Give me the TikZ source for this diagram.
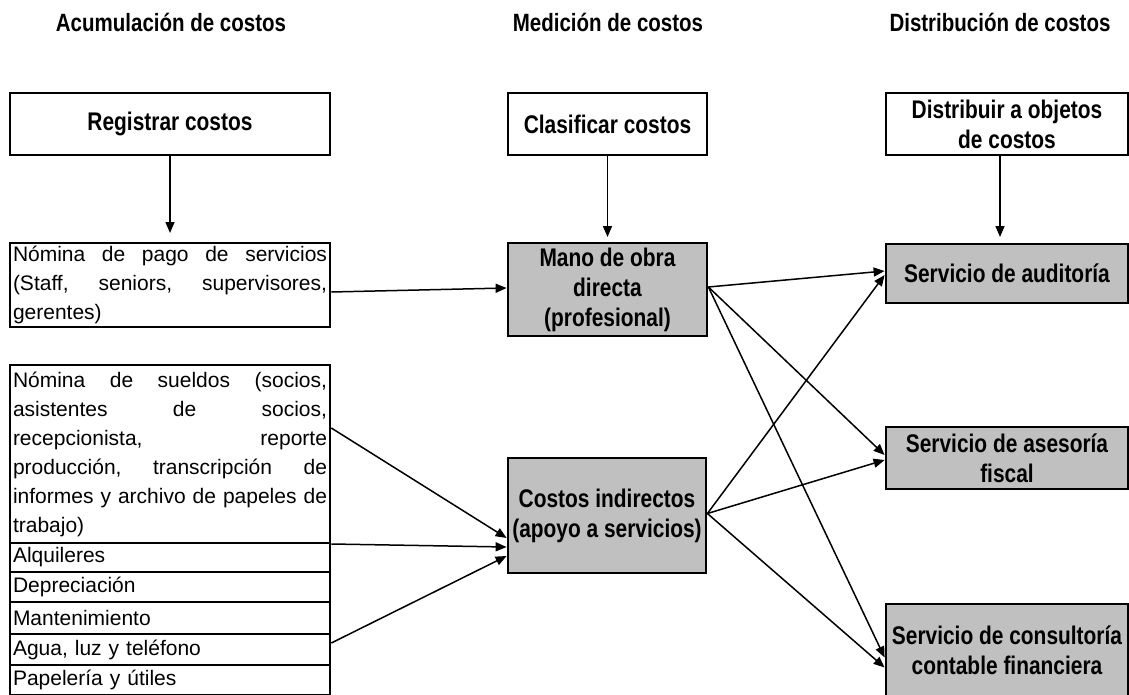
\documentclass[tikz,border=0pt]{standalone}
\usepackage{fontspec}
\setmainfont{Liberation Sans}
\newfontfamily\condfont[FakeStretch=0.82]{Liberation Sans}
\usetikzlibrary{arrows.meta}
\definecolor{boxgray}{HTML}{C0C0C0}
\tikzset{
  heading/.style={font=\condfont\bfseries\fontsize{25}{30}\selectfont, inner sep=0pt},
  stagebox/.style={draw, line width=2.8pt, align=center, inner sep=0pt,
    font=\condfont\bfseries\fontsize{25.5}{30}\selectfont},
  graybox/.style={stagebox, fill=boxgray},
  itembox/.style={draw, line width=2.6pt, inner xsep=3pt, inner ysep=0pt,
    minimum width=320pt, text width=314pt, align=left,
    font=\fontsize{21}{29}\selectfont},
  conn/.style={line width=1.5pt, -{Triangle[length=11pt,width=9pt]}},
}
\begin{document}
\begin{tikzpicture}[x=1pt,y=-1pt]
\useasboundingbox (0,0) rectangle (1129,695);

% column headings
\node[heading] (h1) at (171,22) {Acumulación de costos};
\node[heading] (h2) at (608,22) {Medición de costos};
\node[heading] (h3) at (1000,22) {Distribución de costos};

% stage boxes
\node[stagebox, minimum width=320pt, minimum height=62pt] (reg) at (170,124) {Registrar costos};
\node[stagebox, minimum width=199pt, minimum height=62pt] (cla) at (607.5,124) {Clasificar costos};
\node[stagebox, minimum width=242pt, minimum height=62pt] (dis) at (1007,124) {Distribuir a objetos\\de costos};

\coordinate (regend) at (170,233);
\coordinate (claend) at (607.5,237);
\coordinate (disend) at (1000,237);
\draw[conn] (reg.south) -- (regend);
\draw[conn] (cla.south) -- (claend);
\draw[conn] ([xshift=-7pt]dis.south) -- (disend);

% cost items
\node[itembox, minimum height=84pt] (pago) at (170,285)
  {Nómina\hfill de\hfill pago\hfill de\hfill servicios\\
   (Staff,\hfill seniors,\hfill supervisores,\\
   gerentes)};
\node[itembox, minimum height=178pt] (sue) at (170,454)
  {Nómina\hfill de\hfill sueldos\hfill (socios,\\
   asistentes\hfill de\hfill socios,\\
   recepcionista,\hfill reporte\\
   producción,\hfill transcripción\hfill de\\
   informes\hfill y\hfill archivo\hfill de\hfill papeles\hfill de\\
   trabajo)};
\node[itembox, minimum height=29pt] (alq) at (170,557.5) {Alquileres};
\node[itembox, minimum height=30pt] (dep) at (170,587) {Depreciación};
\node[itembox, minimum height=32pt] (man) at (170,618) {Mantenimiento};
\node[itembox, minimum height=31pt] (agu) at (170,649.5) {Agua, luz y teléfono};
\node[itembox, minimum height=30pt] (pap) at (170,680) {Papelería y útiles};

% cost categories
\node[graybox, minimum width=199pt, minimum height=93pt] (mano) at (607.5,289.5)
  {Mano de obra\\directa\\(profesional)};
\node[graybox, minimum width=198pt, minimum height=115pt] (ind) at (607,515.5)
  {Costos indirectos\\(apoyo a servicios)};

% cost objects
\node[graybox, minimum width=242pt, minimum height=59pt] (aud) at (1007,273.5)
  {Servicio de auditoría};
\node[graybox, minimum width=242pt, minimum height=62pt] (ase) at (1007,458)
  {Servicio de asesoría\\fiscal};
\node[graybox, minimum width=242pt, minimum height=93pt] (con) at (1007,650.5)
  {Servicio de consultoría\\contable financiera};

% flows into the categories
\draw[conn] ([yshift=-7pt]pago.east) -- ([yshift=1.5pt]mano.west);
\draw[conn] ([yshift=26pt]sue.east) -- ([yshift=-22.5pt]ind.west);
\draw[conn] ([yshift=13.5pt]alq.east) -- ([yshift=-31.5pt]ind.west);
\draw[conn] ([yshift=6.5pt]agu.east) -- ([yshift=-40.5pt]ind.west);

% flows into the cost objects
\draw[conn] ([yshift=2.5pt]mano.east) -- ([yshift=2.5pt]aud.west);
\draw[conn] ([yshift=2.5pt]mano.east) -- ([yshift=3pt]ase.west);
\draw[conn] ([yshift=2.5pt]mano.east) -- ([yshift=-7pt]con.west);
\draw[conn] ([yshift=2pt]ind.east) -- ([yshift=-1.5pt]aud.west);
\draw[conn] ([yshift=2pt]ind.east) -- ([yshift=-2pt]ase.west);
\draw[conn] ([yshift=2pt]ind.east) -- ([yshift=-17pt]con.west);
\end{tikzpicture}
\end{document}
